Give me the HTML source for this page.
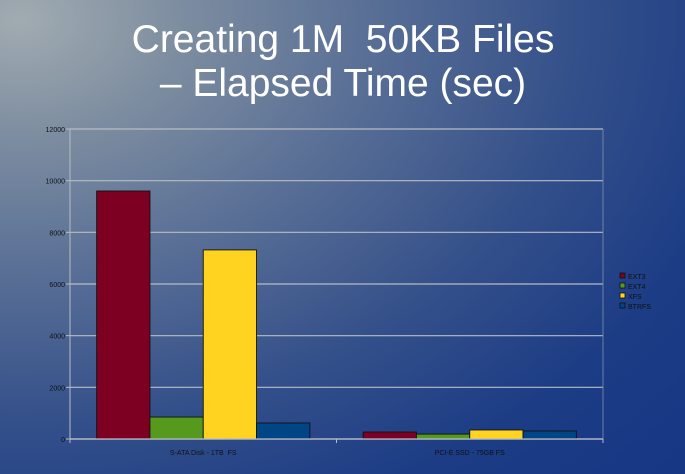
<!DOCTYPE html>
<html><head><meta charset="utf-8"><style>
html,body{margin:0;padding:0}
body{width:685px;height:474px;overflow:hidden;position:relative;
background:radial-gradient(ellipse 900px 650px at 20px 20px,#a1abb1 0%,#7d8da0 18%,#5a7096 38%,#34508a 62%,#1c3c85 82%,#173785 100%);
font-family:"Liberation Sans",sans-serif}
svg{position:absolute;left:0;top:0}
text{white-space:pre}
</style></head><body>
<svg width="685" height="474">
<text x="343" y="52" text-anchor="middle" font-size="39" fill="#fff" xml:space="preserve">Creating 1M  50KB Files</text>
<text x="343" y="96" text-anchor="middle" font-size="39" fill="#fff">– Elapsed Time (sec)</text>
<g id="plot"></g>
</svg>
<script>
const categories=["S-ATA Disk - 1TB  FS","PCI-E SSD - 75GB FS"];
const seriesNames=["EXT3","EXT4","XFS","BTRFS"];
const seriesColors=["#7d0022","#559a1c","#ffd320","#004586"];
const ext3=[9600,270];
const ext4=[850,190];
const xfs=[7320,350];
const btrfs=[620,310];
const yTicks=[0,2000,4000,6000,8000,10000,12000];
const series=[ext3,ext4,xfs,btrfs];
const NS="http://www.w3.org/2000/svg";
const g=document.getElementById('plot');
const X0=70,X1=603,Y0=439,Y1=129,YMAX=12000;
const y=v=>Y0-(v/YMAX)*(Y0-Y1);
const band=(X1-X0)/categories.length;
const bw=band*0.8/series.length;
function el(t,a){const e=document.createElementNS(NS,t);for(const k in a)e.setAttribute(k,a[k]);g.appendChild(e);return e;}
yTicks.forEach(t=>{
 const l=el('line',{x1:X0,x2:X1,y1:y(t),y2:y(t),stroke:'#b8bcc4','stroke-width':1.2});
 
 
 const tk=el('line',{x1:X0-4,x2:X0,y1:y(t),y2:y(t),stroke:'#b8bcc4'});
 
 
 const tx=el('text',{x:X0-5,y:y(t)+3,'text-anchor':'end','font-size':7,fill:'#111'});
 tx.textContent=t;
 
 
});
const ya=el('line',{x1:X0,x2:X0,y1:Y1,y2:Y0,stroke:'#b8bcc4'});


const ra=el('line',{x1:X1,x2:X1,y1:Y1,y2:Y0+3,stroke:'#8090b0','stroke-width':0.8});


for(let i=0;i<=categories.length;i++){
 const tk=el('line',{x1:X0+i*band,x2:X0+i*band,y1:Y0,y2:Y0+4,stroke:'#b8bcc4'});
 
 
}
categories.forEach((c,ci)=>{
 const gx=X0+ci*band+band*0.1;
 series.forEach((s,si)=>{
  const r=el('rect',{x:gx+si*bw,y:y(s[ci]),width:bw,height:Y0-y(s[ci]),fill:seriesColors[si],stroke:'#111','stroke-width':0.9});
  
  
 });
 const t=el('text',{x:X0+ci*band+band/2,y:455,'text-anchor':'middle','font-size':7,fill:'#111'});
 t.textContent=c;
 
 
});
const xa=el('line',{x1:X0,x2:X1,y1:Y0,y2:Y0,stroke:'#b8bcc4','stroke-width':1.2});


seriesNames.forEach((n,i)=>{
 const r=el('rect',{x:620,y:273+i*10,width:5,height:5,fill:seriesColors[i],stroke:'#111','stroke-width':0.8});
 
 
 const t=el('text',{x:628,y:279+i*10,'font-size':7,fill:'#111'});
 t.textContent=n;
 
 
});
</script>
</body></html>
